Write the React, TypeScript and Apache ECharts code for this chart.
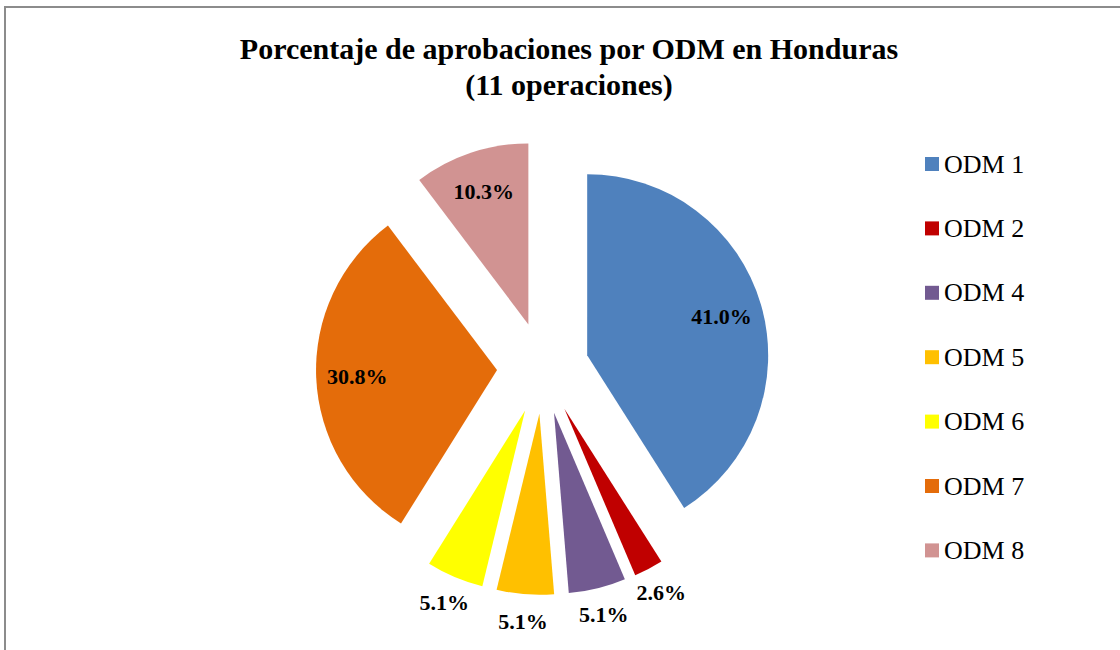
import { useEffect, useRef } from 'react';
import * as echarts from 'echarts';

const categories = ['ODM 1', 'ODM 2', 'ODM 4', 'ODM 5', 'ODM 6', 'ODM 7', 'ODM 8'];
const percentages = [41.0, 2.6, 5.1, 5.1, 5.1, 30.8, 10.3];
const colors = ['#4F81BD', '#C00000', '#725A91', '#FFC000', '#FFFF00', '#E46C0A', '#D19392'];
const insideLabelCategories = ['ODM 1', 'ODM 7', 'ODM 8'];
const titleLines = ['Porcentaje de aprobaciones por ODM en Honduras', '(11 operaciones)'];

const SERIF = '"Liberation Serif", "Times New Roman", serif';

export default function App() {
  const ref = useRef<HTMLDivElement>(null);

  useEffect(() => {
    if (!ref.current) return;
    const chart = echarts.init(ref.current, undefined, { renderer: 'svg' });

    const center = [543, 368];
    const common = {
      type: 'pie',
      center,
      startAngle: 90,
      clockwise: true,
      selectedMode: 'multiple',
      selectedOffset: 46,
      avoidLabelOverlap: false,
      labelLine: { show: false },
      emphasis: { disabled: true },
      animation: false,
    };

    const fmt = (p: any) => Number(p.value).toFixed(1) + '%';
    const labelStyle = {
      fontFamily: SERIF,
      fontWeight: 'bold',
      fontSize: 22,
      color: '#000',
      textBorderWidth: 0,
    };

    const baseData = categories.map((name, i) => ({
      name,
      value: percentages[i],
      selected: true,
      itemStyle: { color: colors[i], borderWidth: 0 },
    }));

    const overlayData = (show: (name: string, i: number) => boolean) =>
      categories.map((name, i) => ({
        name,
        value: percentages[i],
        selected: true,
        itemStyle: { color: 'rgba(0,0,0,0)', borderWidth: 0 },
        label: { show: show(name, i) },
      }));

    const outsideCats = categories.filter((c) => !insideLabelCategories.includes(c));

    const labelSeries = (name: string, radius: number, show: (n: string, i: number) => boolean) => ({
      ...common,
      name,
      radius: [0, radius],
      silent: true,
      labelLayout: { hideOverlap: false },
      label: { position: 'inside', formatter: fmt, ...labelStyle },
      data: overlayData(show),
    });

    chart.setOption({
      animation: false,
      title: {
        text: titleLines.join('\n'),
        left: 564,
        top: 25,
        textAlign: 'center',
        textStyle: {
          fontFamily: SERIF,
          fontWeight: 'bold',
          fontSize: 30,
          lineHeight: 36,
          color: '#000',
        },
      },
      legend: {
        orient: 'vertical',
        left: 925,
        top: 151,
        padding: 0,
        itemWidth: 14,
        itemHeight: 14,
        itemGap: 38.4,
        icon: 'rect',
        data: categories,
        selectedMode: false,
        textStyle: {
          fontFamily: SERIF,
          fontSize: 26,
          lineHeight: 26,
          color: '#000',
        },
      },
      graphic: [
        {
          type: 'rect',
          shape: { x: 5, y: 7, width: 1200, height: 700 },
          style: { fill: 'none', stroke: '#8c8c8c', lineWidth: 2 },
          silent: true,
          z: -1,
        },
      ],
      series: [
        {
          ...common,
          name: 'pie',
          radius: [0, 181],
          label: { show: false },
          data: baseData,
        },
        labelSeries('insideLabels', 274, (n) => insideLabelCategories.includes(n)),
        // each outside label in its own overlay so none is dropped
        ...outsideCats.map((cat) => labelSeries('outside ' + cat, 410, (n) => n === cat)),
      ],
    });

    return () => chart.dispose();
  }, []);

  return (
    <div
      ref={ref}
      style={{ position: 'fixed', left: 0, top: 0, width: 1120, height: 650, background: '#fff' }}
    />
  );
}
